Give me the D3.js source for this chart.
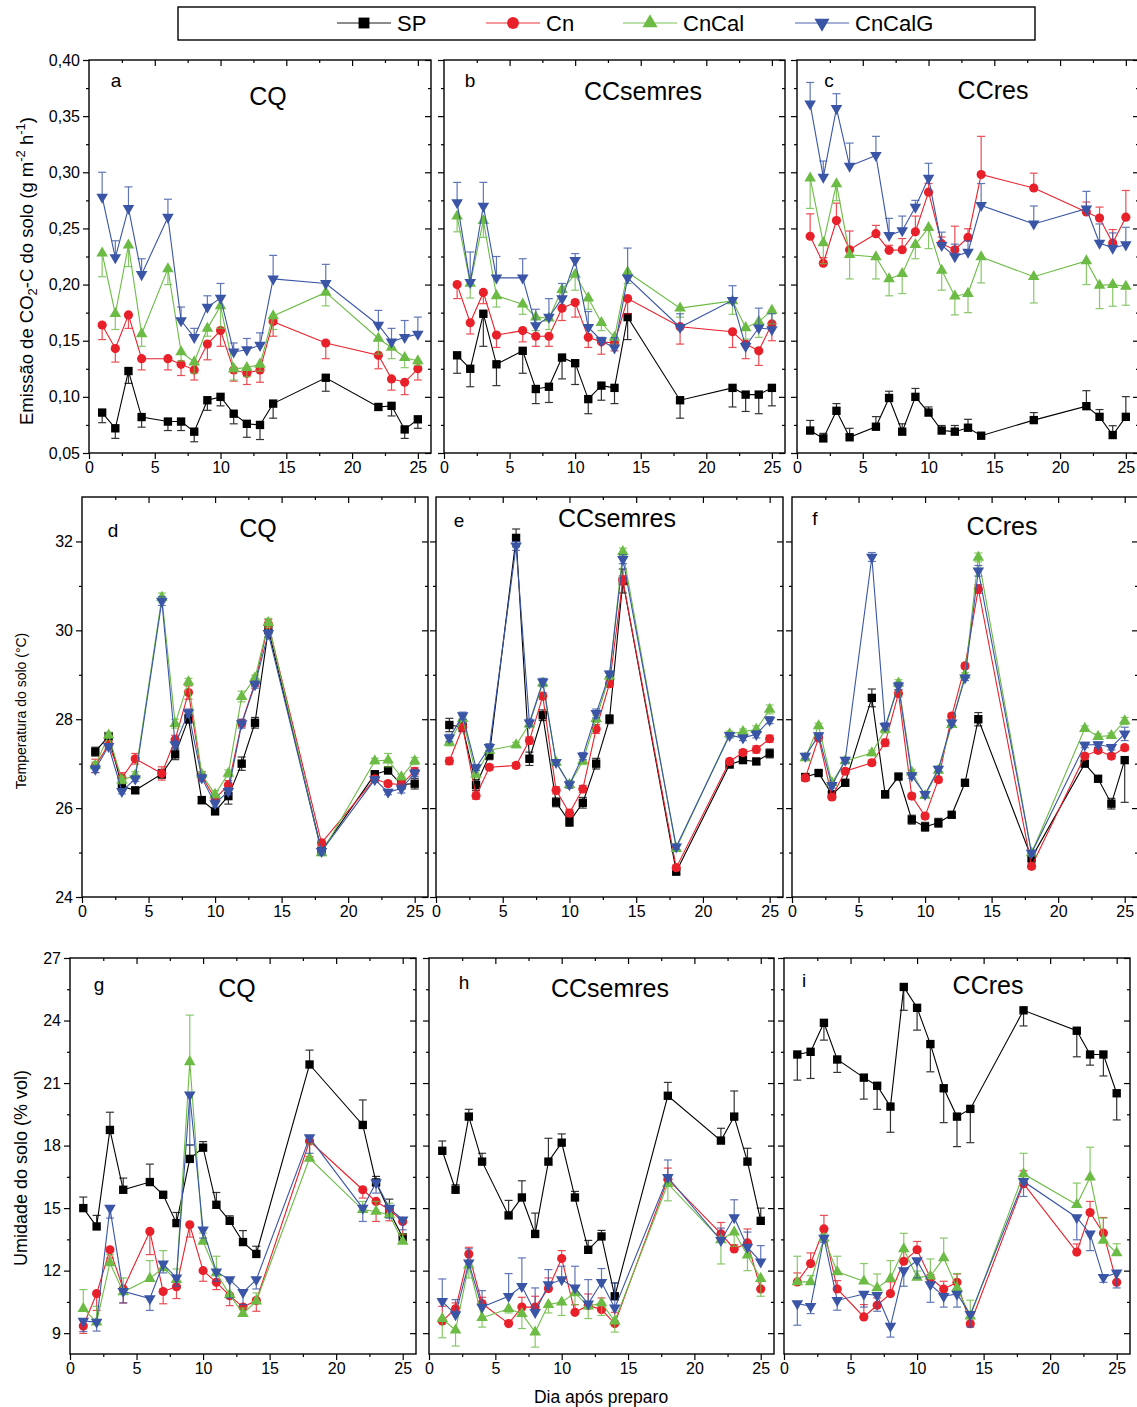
<!DOCTYPE html>
<html><head><meta charset="utf-8">
<script src="https://cdn.jsdelivr.net/npm/d3@7"></script>
<style>
body{margin:0;background:#fff}
svg{display:block}
text{font-family:"Liberation Sans",Arial,Helvetica,sans-serif;fill:#000}
</style>
</head><body>
<svg id="chart" width="1137" height="1407"></svg>
<script>
// ---------- DATA ----------
const days = [1,2,3,4,6,7,8,9,10,11,12,13,14,18,22,23,24,25];
const seriesNames = ["SP","Cn","CnCal","CnCalG"];
const panelTitles = ["CQ","CCsemres","CCres"];
const panelLetters = ["a","b","c","d","e","f","g","h","i"];
const xTicks = [0,5,10,15,20,25];
const xMinorTicks = [2.5,7.5,12.5,17.5,22.5];
const emisTicks = [0.05,0.10,0.15,0.20,0.25,0.30,0.35,0.40];
const emisMinor = [0.075,0.125,0.175,0.225,0.275,0.325,0.375];
const tempTicks = [24,26,28,30,32];
const tempMinor = [25,27,29,31];
const umidTicks = [9,12,15,18,21,24,27];
const umidMinor = [10.5,13.5,16.5,19.5,22.5,25.5];

// Emission (g m-2 h-1); errors: + drawn upward, - drawn downward
const a_SP = [0.086,0.072,0.123,0.082,0.078,0.078,0.069,0.097,0.100,0.085,0.076,0.075,0.094,0.117,0.091,0.092,0.071,0.080];
const a_SP_e = [-0.009,-0.009,-0.011,-0.009,-0.008,-0.008,-0.009,-0.009,-0.008,-0.009,-0.012,-0.013,-0.013,-0.012,-0.003,-0.009,-0.008,-0.008];
const a_Cn = [0.164,0.143,0.173,0.134,0.134,0.129,0.124,0.147,0.159,0.124,0.121,0.124,0.167,0.148,0.137,0.116,0.113,0.125];
const a_Cn_e = [-0.013,-0.012,-0.012,-0.010,-0.010,-0.010,-0.009,-0.014,-0.014,-0.010,-0.010,-0.011,-0.013,-0.014,-0.012,-0.010,-0.011,-0.010];
const a_CnCal = [0.228,0.174,0.235,0.156,0.214,0.140,0.131,0.161,0.181,0.125,0.126,0.129,0.172,0.193,0.152,0.144,0.135,0.132];
const a_CnCal_e = [-0.021,-0.014,-0.019,-0.011,-0.014,-0.008,-0.010,-0.007,-0.020,-0.010,-0.008,-0.006,-0.012,-0.012,-0.014,-0.010,-0.009,-0.004];
const a_CnCalG = [0.278,0.224,0.268,0.209,0.260,0.168,0.153,0.180,0.188,0.140,0.142,0.146,0.205,0.201,0.164,0.149,0.153,0.156];
const a_CnCalG_e = [0.022,0.015,0.019,0.014,0.016,0.012,0.008,0.010,0.013,0.008,0.010,0.011,0.021,0.017,0.013,0.012,0.015,0.015];

const b_SP = [0.137,0.125,0.174,0.129,0.141,0.107,0.109,0.135,0.130,0.098,0.110,0.108,0.171,0.097,0.108,0.102,0.102,0.108];
const b_SP_e = [-0.016,-0.016,-0.029,-0.019,-0.020,-0.013,-0.014,-0.019,-0.019,-0.013,-0.013,-0.014,-0.020,-0.016,-0.017,-0.015,-0.017,-0.016];
const b_Cn = [0.200,0.166,0.193,0.155,0.159,0.154,0.154,0.179,0.184,0.153,0.149,0.148,0.1875,0.1625,0.158,0.147,0.141,0.165];
const b_Cn_e = [-0.0125,-0.010,-0.010,-0.011,-0.010,-0.009,-0.009,-0.011,-0.013,-0.009,-0.011,-0.007,-0.0135,-0.0155,-0.014,-0.013,-0.013,-0.015];
const b_CnCal = [0.261,0.201,0.257,0.190,0.1825,0.171,0.170,0.1955,0.209,0.188,0.166,0.153,0.211,0.179,0.1855,0.1615,0.167,0.177];
const b_CnCal_e = [-0.014,-0.013,-0.015,-0.010,-0.009,-0.012,-0.010,-0.008,-0.014,-0.010,-0.007,-0.006,-0.010,-0.008,-0.012,-0.010,-0.014,-0.012];
const b_CnCalG = [0.273,0.202,0.270,0.206,0.206,0.1635,0.171,0.1875,0.2216,0.162,0.150,0.1436,0.206,0.162,0.186,0.145,0.1615,0.160];
const b_CnCalG_e = [0.018,0.027,0.021,0.019,0.017,0.0145,0.0165,0.0135,0.006,0.014,0.003,0.009,0.0265,0.012,0.013,0.003,0.0175,0.014];

const c_SP = [0.070,0.063,0.0876,0.064,0.0734,0.099,0.069,0.100,0.086,0.070,0.069,0.0725,0.0654,0.0793,0.0917,0.0822,0.066,0.0822];
const c_SP_e = [0.009,0.0045,0.0064,0.008,0.009,0.006,0.007,0.0075,0.005,0.0045,0.0055,0.0075,0.001,0.0067,0.0138,0.0065,0.0083,0.018];
const c_Cn = [0.243,0.219,0.257,0.231,0.2453,0.2305,0.231,0.247,0.2823,0.2364,0.231,0.242,0.298,0.286,0.2646,0.2592,0.237,0.260];
const c_Cn_e = [0.020,0.005,0.0155,0.0167,0.0074,0.0045,0.010,0.014,0.0077,0.006,0.021,0.0077,0.034,0.0132,0.0089,0.0098,0.012,0.0238];
const c_CnCal = [0.2948,0.237,0.2897,0.2266,0.2246,0.205,0.2097,0.2355,0.2506,0.2127,0.1896,0.192,0.2246,0.207,0.221,0.1993,0.200,0.1984];
const c_CnCal_e = [-0.027,-0.0184,-0.015,-0.0216,-0.0196,-0.015,-0.0177,-0.0125,-0.0186,-0.0177,-0.0166,-0.017,-0.0231,-0.0234,-0.021,-0.0207,-0.0193,-0.0168];
const c_CnCalG = [0.361,0.2957,0.357,0.3055,0.315,0.2438,0.248,0.269,0.2948,0.235,0.225,0.229,0.2705,0.254,0.2675,0.237,0.2326,0.2355];
const c_CnCalG_e = [0.019,0.0143,0.013,0.0205,0.017,0.0152,0.013,0.006,0.0132,0.0117,0.011,0.010,0.0195,0.016,0.0155,0.017,0.0134,0.0155];

// Soil temperature (°C); errors symmetric (negative = downward only)
const d_SP = [27.27,27.62,26.49,26.40,26.77,27.21,28.01,26.18,25.93,26.27,27.00,27.92,30.02,25.04,26.76,26.85,26.53,26.55];
const d_SP_e = [0.10,0.08,0.10,0.06,0.10,0.12,0.10,0.08,0.08,0.18,0.15,0.12,0.10,0.06,0.08,0.08,0.10,0.12];
const d_Cn = [26.95,27.43,26.68,27.11,26.78,27.54,28.60,26.72,26.21,26.52,27.91,28.82,30.14,25.22,26.66,26.55,26.53,26.83];
const d_Cn_e = [0.15,0.08,0.12,0.12,0.15,0.10,0.15,0.10,0.08,0.10,0.08,0.08,0.10,0.06,0.06,0.06,0.10,0.08];
const d_CnCal = [26.96,27.64,26.63,26.74,30.74,27.90,28.84,26.76,26.31,26.78,28.51,28.93,30.17,24.99,27.06,27.08,26.70,27.06];
const d_CnCal_e = [0.08,0.06,0.08,0.08,0.10,0.10,0.08,0.06,0.08,0.08,0.12,0.06,0.10,0.06,0.06,0.15,0.06,0.08];
const d_CnCalG = [26.88,27.39,26.38,26.66,30.66,27.43,28.15,26.68,26.10,26.38,27.90,28.78,29.93,25.03,26.64,26.36,26.44,26.79];
const d_CnCalG_e = [0.08,0.06,0.06,0.06,0.10,0.08,0.08,0.08,0.08,0.08,0.10,0.08,0.08,0.08,0.06,0.06,0.10,0.08];

const e_SP = [27.87,27.82,26.52,27.19,32.08,27.11,28.09,26.13,25.69,26.12,27.00,28.00,31.11,24.57,26.98,27.08,27.05,27.23];
const e_SP_e = [0.15,0.10,0.12,0.10,0.20,0.15,0.12,0.10,0.10,0.12,0.12,0.10,0.27,0.05,0.06,0.06,0.06,0.10];
const e_Cn = [27.06,27.82,26.28,26.92,26.96,27.52,28.52,26.40,25.89,26.43,27.78,28.80,31.13,24.66,27.05,27.25,27.32,27.56];
const e_Cn_e = [0.08,0.08,0.08,0.06,0.06,0.08,0.08,0.08,0.08,0.08,0.10,0.08,0.10,0.06,0.06,0.06,0.08,0.08];
const e_CnCal = [27.48,28.01,26.76,27.30,27.42,27.89,28.81,27.03,26.53,27.06,28.01,28.97,31.77,25.09,27.67,27.72,27.77,28.22];
const e_CnCal_e = [0.08,0.06,0.08,0.06,0.06,0.08,0.08,0.06,0.08,0.08,0.08,0.06,0.08,0.06,0.06,0.06,0.08,0.10];
const e_CnCalG = [27.58,28.08,26.91,27.37,31.90,27.92,28.84,27.03,26.53,27.17,28.13,29.02,31.60,25.13,27.64,27.58,27.66,27.98];
const e_CnCalG_e = [0.08,0.08,0.06,0.08,0.10,0.08,0.08,0.06,0.08,0.08,0.10,0.06,0.10,0.06,0.06,0.06,0.08,0.08];

const f_SP = [26.70,26.79,26.31,26.57,28.48,26.31,26.71,25.74,25.58,25.67,25.85,26.57,28.00,24.88,27.00,26.66,26.10,27.08];
const f_SP_e = [0.05,0.05,0.06,0.05,0.20,0.08,0.05,0.10,0.10,0.10,0.05,0.05,0.15,0.10,0.06,0.05,0.12,-0.95];
const f_Cn = [26.68,27.58,26.25,26.83,27.02,27.47,28.58,26.27,25.82,26.64,28.07,29.20,30.93,24.69,27.17,27.30,27.17,27.36];
const f_Cn_e = [0.06,0.06,0.06,0.06,0.06,0.08,0.08,0.06,0.06,0.06,0.06,0.06,0.10,0.06,0.06,0.06,0.06,0.06];
const f_CnCal = [27.13,27.85,26.57,27.06,27.24,27.77,28.81,26.81,26.28,26.85,27.88,28.99,31.64,24.99,27.79,27.61,27.63,27.96];
const f_CnCal_e = [0.06,0.06,0.06,0.06,0.06,0.08,0.08,0.06,0.06,0.06,0.06,0.06,0.10,0.06,0.06,0.06,0.06,0.08];
const f_CnCalG = [27.17,27.63,26.51,27.08,31.65,27.84,28.75,26.73,26.31,26.88,27.92,28.93,31.34,24.99,27.42,27.43,27.37,27.67];
const f_CnCalG_e = [0.06,0.06,0.06,0.06,0.10,0.08,0.08,0.06,0.06,0.06,0.06,0.06,0.12,0.06,0.06,0.06,0.06,0.15];

// Soil moisture (% vol); errors: + drawn upward, - drawn downward
const g_SP = [15.0,14.12,18.75,15.88,16.25,15.64,14.28,17.36,17.9,15.16,14.39,13.37,12.8,21.89,18.99,16.23,14.84,13.6];
const g_SP_e = [0.53,0.53,0.85,0.56,0.86,0.1,0.51,0.67,0.29,0.59,0.24,0.55,0.37,0.69,1.2,0.29,0.59,0.15];
const g_Cn = [9.34,10.9,13.0,11.12,13.88,11.0,11.23,14.2,12.0,11.44,10.8,10.25,10.57,18.22,15.88,15.32,14.92,14.36];
const g_Cn_e = [-0.35,-0.81,-0.4,-0.67,-1.11,-0.59,-0.57,-0.59,-0.51,-0.35,-0.48,-0.35,-0.52,-0.75,-0.4,-0.96,-0.53,-0.64];
const g_CnCal = [10.18,9.53,12.37,10.98,11.62,12.13,11.57,22.02,13.4,11.89,10.85,9.93,10.53,17.39,14.92,14.84,14.68,13.4];
const g_CnCal_e = [0.91,0.76,0.4,0.67,0.86,0.83,0.51,2.24,0.4,0.8,0.64,0.28,0.4,0.69,0.4,0.48,0.56,0.36];
const g_CnCalG = [9.58,9.53,15.0,11.01,10.66,12.32,11.65,20.43,13.96,11.94,11.57,10.96,11.57,18.38,15.0,16.23,15.0,14.44];
const g_CnCalG_e = [-0.5,-0.43,-0.48,-0.56,-0.57,-0.43,-0.4,-2.4,-0.4,-0.45,-0.88,-0.59,-0.45,-0.75,-0.64,-0.51,-0.48,-0.48];

const h_SP = [17.75,15.88,19.39,17.23,14.65,15.51,13.76,17.23,18.14,15.51,13.0,13.64,10.77,20.39,18.24,19.39,17.23,14.39];
const h_SP_e = [0.47,0.24,0.35,0.4,0.72,0.8,1.0,1.12,0.42,0.29,0.45,0.29,0.64,0.64,0.59,1.23,0.64,0.61];
const h_Cn = [9.58,10.17,12.8,10.42,9.46,10.25,10.25,11.14,12.58,10.0,10.33,10.13,9.46,16.39,13.77,13.04,13.33,11.12];
const h_Cn_e = [0.71,0.28,0.32,0.3,0.1,0.47,0.52,0.51,0.38,0.37,0.55,0.56,0.54,0.53,0.54,0.2,0.67,0.4];
const h_CnCal = [9.69,9.14,12.26,9.74,10.17,9.93,9.05,10.37,10.49,10.93,10.29,10.45,9.58,16.17,13.48,13.85,12.74,11.62];
const h_CnCal_e = [-0.91,-0.76,-0.61,-0.45,-0.2,-0.71,-0.72,-0.4,-0.64,-0.56,-0.59,-0.6,-0.53,-0.82,-1.16,-0.69,-0.74,-0.85];
const h_CnCalG = [10.53,9.89,12.37,10.25,10.77,11.25,10.0,11.33,11.57,11.17,10.41,11.44,10.21,16.48,13.45,14.55,13.13,12.42];
const h_CnCalG_e = [1.07,0.72,0.68,0.79,1.09,1.36,1.17,0.72,0.64,1.04,1.16,0.66,1.2,0.83,0.59,0.85,0.72,0.78];

const i_SP = [22.37,22.5,23.89,22.13,21.26,20.87,19.87,25.61,24.61,22.87,20.75,19.39,19.76,24.49,23.51,22.37,22.37,20.51];
const i_SP_e = [-1.23,-1.28,-0.83,-0.62,-1.03,-1.13,-1.23,-1.12,-1.07,-1.33,-1.65,-1.44,-1.62,-0.75,-1.25,-0.51,-1.03,-1.28];
const i_Cn = [11.46,12.34,14.0,11.12,9.78,10.34,10.9,12.45,13.0,11.65,11.12,11.44,9.45,16.17,12.89,14.79,13.8,11.44];
const i_Cn_e = [0.43,0.51,0.65,0.4,0.59,0.35,0.56,0.51,0.4,0.16,0.37,0.4,0.28,0.62,0.39,0.53,0.75,0.53];
const i_CnCal = [11.46,11.46,13.56,11.94,11.49,11.17,11.62,13.04,11.68,11.73,12.61,11.17,9.81,16.64,15.16,16.48,13.45,12.85];
const i_CnCal_e = [1.23,0.3,0.2,0.75,0.85,0.67,0.86,0.75,0.3,0.83,0.95,0.69,0.77,0.99,1.04,1.44,1.07,0.44];
const i_CnCalG = [10.42,10.29,13.56,10.57,10.88,10.82,9.34,12.0,12.48,11.33,10.77,10.88,9.9,16.28,14.55,13.76,11.68,11.89];
const i_CnCalG_e = [-1.04,-0.35,-0.2,-0.47,-0.63,-0.77,-0.53,-0.75,-0.83,-0.85,-0.52,-0.63,-0.61,-0.72,-1.07,-0.8,-0.24,-0.72];

// ---------- STYLE / LAYOUT ----------
const colors = {SP:"#000000", Cn:"#e8202a", CnCal:"#6cbb45", CnCalG:"#3a55a5"};
const panelData = [
  [[a_SP,a_SP_e],[a_Cn,a_Cn_e],[a_CnCal,a_CnCal_e],[a_CnCalG,a_CnCalG_e]],
  [[b_SP,b_SP_e],[b_Cn,b_Cn_e],[b_CnCal,b_CnCal_e],[b_CnCalG,b_CnCalG_e]],
  [[c_SP,c_SP_e],[c_Cn,c_Cn_e],[c_CnCal,c_CnCal_e],[c_CnCalG,c_CnCalG_e]],
  [[d_SP,d_SP_e],[d_Cn,d_Cn_e],[d_CnCal,d_CnCal_e],[d_CnCalG,d_CnCalG_e]],
  [[e_SP,e_SP_e],[e_Cn,e_Cn_e],[e_CnCal,e_CnCal_e],[e_CnCalG,e_CnCalG_e]],
  [[f_SP,f_SP_e],[f_Cn,f_Cn_e],[f_CnCal,f_CnCal_e],[f_CnCalG,f_CnCalG_e]],
  [[g_SP,g_SP_e],[g_Cn,g_Cn_e],[g_CnCal,g_CnCal_e],[g_CnCalG,g_CnCalG_e]],
  [[h_SP,h_SP_e],[h_Cn,h_Cn_e],[h_CnCal,h_CnCal_e],[h_CnCalG,h_CnCalG_e]],
  [[i_SP,i_SP_e],[i_Cn,i_Cn_e],[i_CnCal,i_CnCal_e],[i_CnCalG,i_CnCalG_e]]
];
const rows = [
  {top:60, bottom:453, domain:[0.05,0.40], ticks:emisTicks, minor:emisMinor, fmt:d=>d.toFixed(2).replace(".",","), sym:false,
   panels:[[89,431],[444,785],[797,1139]]},
  {top:497, bottom:897, domain:[24,33], ticks:tempTicks, minor:tempMinor, fmt:d=>String(d), sym:true,
   panels:[[82,428],[436,783],[792,1138]]},
  {top:958, bottom:1354, domain:[8,27], ticks:umidTicks, minor:umidMinor, fmt:d=>String(d), sym:false,
   panels:[[70,416],[429,774],[784,1130]]}
];
const labelPos = [
  [116,87,268,105],[470,87,643,100],[829,87,993,99],
  [113,537,258,537],[459,527,617,527],[815,525,1002,535],
  [99,991,237,997],[464,989,610,997],[804,987,988,994]
];

const svg = d3.select("#chart");

function marker(sel, name){
  if(name==="SP") return sel.append("path").attr("d", d3.symbol(d3.symbolSquare, 70)());
  if(name==="Cn") return sel.append("path").attr("d", d3.symbol(d3.symbolCircle, 66)());
  if(name==="CnCal") return sel.append("path").attr("d", d3.symbol(d3.symbolTriangle, 58)());
  return sel.append("path").attr("d", d3.symbol(d3.symbolTriangle, 58)()).attr("transform","rotate(180)");
}

rows.forEach((row, r) => {
  row.panels.forEach((pp, c) => {
    const idx = r*3 + c;
    const x = d3.scaleLinear().domain([0,26]).range([pp[0], pp[1]]);
    const y = d3.scaleLinear().domain(row.domain).range([row.bottom, row.top]);
    const g = svg.append("g");

    // axes: bottom/left outward, top/right inward
    g.append("g").attr("transform",`translate(0,${row.bottom})`)
      .call(d3.axisBottom(x).tickValues(xTicks).tickSize(6).tickPadding(3).tickSizeOuter(0).tickFormat(d3.format("d")));
    g.append("g").attr("transform",`translate(0,${row.bottom})`)
      .call(d3.axisBottom(x).tickValues(xMinorTicks).tickSize(3).tickSizeOuter(0).tickFormat(""));
    g.append("g").attr("transform",`translate(0,${row.top})`)
      .call(d3.axisBottom(x).tickValues(xTicks.slice(1)).tickSize(6).tickSizeOuter(0).tickFormat(""));
    g.append("g").attr("transform",`translate(0,${row.top})`)
      .call(d3.axisBottom(x).tickValues(xMinorTicks).tickSize(3).tickSizeOuter(0).tickFormat(""));
    g.append("g").attr("transform",`translate(${pp[0]},0)`)
      .call(d3.axisLeft(y).tickValues(row.ticks).tickSize(6).tickPadding(3).tickSizeOuter(0)
        .tickFormat(c===0 ? row.fmt : ""));
    g.append("g").attr("transform",`translate(${pp[0]},0)`)
      .call(d3.axisLeft(y).tickValues(row.minor).tickSize(3).tickSizeOuter(0).tickFormat(""));
    g.append("g").attr("transform",`translate(${pp[1]},0)`)
      .call(d3.axisLeft(y).tickValues(row.ticks).tickSize(6).tickSizeOuter(0).tickFormat(""));
    g.append("g").attr("transform",`translate(${pp[1]},0)`)
      .call(d3.axisLeft(y).tickValues(row.minor).tickSize(3).tickSizeOuter(0).tickFormat(""));
    g.selectAll(".domain").remove();
    g.selectAll(".tick line").attr("stroke","#000").attr("stroke-width",1.2);
    g.selectAll(".tick text").attr("font-size",16).attr("font-family",'"Liberation Sans",Arial,sans-serif').attr("fill","#000");

    // series
    panelData[idx].forEach((pair, s) => {
      const name = seriesNames[s];
      const vals = pair[0], errs = pair[1];
      const pts = days.map((d,k)=>({d, v:vals[k], e:errs[k]}));
      const col = colors[name];
      const sg = g.append("g");
      pts.forEach(p => {
        let lo, hi;
        if(row.sym && p.e > 0){ lo = p.v - p.e; hi = p.v + p.e; }
        else { lo = Math.min(p.v, p.v + p.e); hi = Math.max(p.v, p.v + p.e); }
        const cx = x(p.d);
        const eg = sg.append("g").attr("stroke", col).attr("stroke-width",1.2).attr("opacity",0.8);
        eg.append("line").attr("x1",cx).attr("x2",cx).attr("y1",y(lo)).attr("y2",y(hi));
        const caps = [];
        if(row.sym && p.e > 0){ caps.push(lo, hi); } else { caps.push(p.v + p.e); }
        caps.forEach(cv => eg.append("line").attr("x1",cx-4).attr("x2",cx+4).attr("y1",y(cv)).attr("y2",y(cv)));
      });
      sg.append("path").datum(pts)
        .attr("fill","none").attr("stroke",col).attr("stroke-width",1.1)
        .attr("d", d3.line().x(p=>x(p.d)).y(p=>y(p.v)));
      pts.forEach(p => {
        const mg = sg.append("g").attr("transform",`translate(${x(p.d)},${y(p.v)})`).attr("fill",col);
        marker(mg, name);
      });
    });

    g.append("rect").attr("x",pp[0]).attr("y",row.top).attr("width",pp[1]-pp[0]).attr("height",row.bottom-row.top)
      .attr("fill","none").attr("stroke","#000").attr("stroke-width",1.4);

    const lp = labelPos[idx];
    g.append("text").attr("x",lp[0]).attr("y",lp[1]).attr("text-anchor","middle").attr("font-size",19).text(panelLetters[idx]);
    g.append("text").attr("x",lp[2]).attr("y",lp[3]).attr("text-anchor","middle").attr("font-size",25).text(panelTitles[c]);
  });
});

// y-axis titles
const yt1 = svg.append("text").attr("transform","translate(33,271) rotate(-90)").attr("text-anchor","middle").attr("font-size",18.5);
yt1.append("tspan").text("Emissão de CO");
yt1.append("tspan").attr("font-size",13).attr("dy",4).text("2");
yt1.append("tspan").attr("dy",-4).text("-C do solo (g m");
yt1.append("tspan").attr("font-size",13).attr("dy",-8).text("-2");
yt1.append("tspan").attr("dy",8).text(" h");
yt1.append("tspan").attr("font-size",13).attr("dy",-8).text("-1");
yt1.append("tspan").attr("dy",8).text(")");

svg.append("text").attr("transform","translate(26,711) rotate(-90)").attr("text-anchor","middle").attr("font-size",14)
  .text("Temperatura do solo (°C)");
svg.append("text").attr("transform","translate(27,1168) rotate(-90)").attr("text-anchor","middle").attr("font-size",18)
  .text("Umidade do solo (% vol)");
svg.append("text").attr("x",601).attr("y",1403).attr("text-anchor","middle").attr("font-size",17.5).text("Dia após preparo");

// legend
svg.append("rect").attr("x",178).attr("y",7).attr("width",857).attr("height",33)
  .attr("fill","none").attr("stroke","#000").attr("stroke-width",1.4);
const legX = [364,513,650,822];
seriesNames.forEach((name, s) => {
  const cx = legX[s], cy = 23;
  svg.append("line").attr("x1",cx-27).attr("x2",cx+27).attr("y1",cy).attr("y2",cy)
    .attr("stroke",colors[name]).attr("stroke-width",1.4).attr("opacity",0.6);
  const mg = svg.append("g").attr("transform",`translate(${cx},${cy})`).attr("fill",colors[name]);
  marker(mg, name).attr("transform", name==="CnCalG" ? "rotate(180) scale(1.3)" : "scale(1.3)");
  svg.append("text").attr("x",cx+33).attr("y",cy+8).attr("font-size",22).text(name);
});
</script>
</body></html>
